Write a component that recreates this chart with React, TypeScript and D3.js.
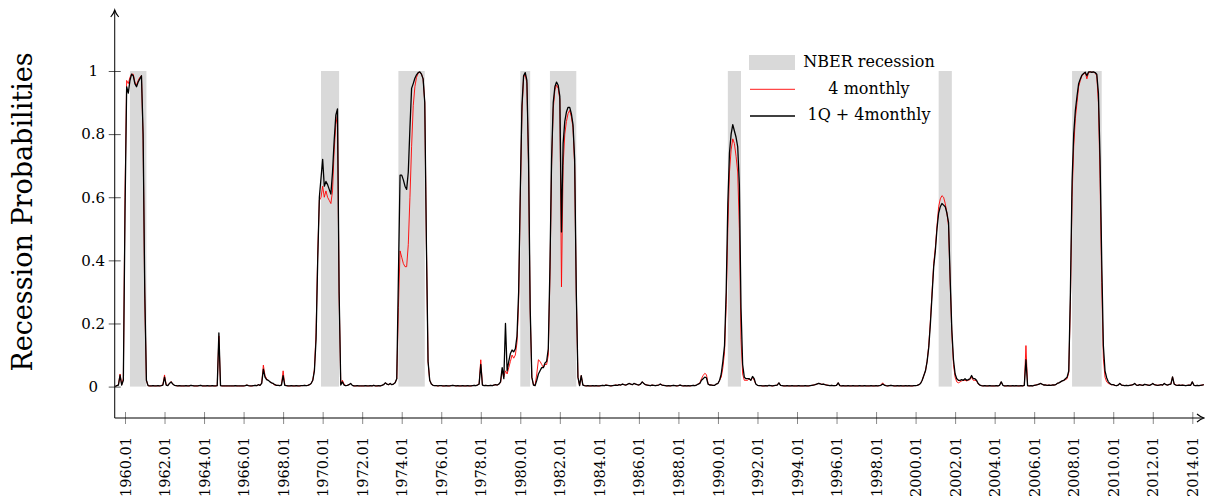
import React, { useEffect, useRef } from 'react';
import * as d3 from 'd3';

const W = 1205;
const H = 498;
const FONT = '"DejaVu Serif", serif';

// first observation: July 1959, one value per month
const firstMonth = 1959 + 6 / 12;

// 1Q + 4monthly (black)
const combined1950s = [0, 0.003, 0.005, 0.036, 0.005, 0.02];
const combined1960s = [
  [0.55, 0.95, 0.93, 0.97, 0.99, 0.985, 0.96, 0.95, 0.965, 0.975, 0.985, 0.8],
  [0.3, 0.02, 0.003, 0.002, 0.002, 0.003, 0.002, 0.002, 0.003, 0.002, 0.003, 0.005],
  [0.03, 0.005, 0.003, 0.01, 0.015, 0.008, 0.004, 0.003, 0.002, 0.003, 0.002, 0.002],
  [0.002, 0.003, 0.002, 0.002, 0.004, 0.003, 0.002, 0.002, 0.002, 0.003, 0.004, 0.002],
  [0.002, 0.002, 0.003, 0.002, 0.002, 0.003, 0.002, 0.002, 0.003, 0.17, 0.003, 0.002],
  [0.002, 0.002, 0.002, 0.002, 0.002, 0.002, 0.002, 0.003, 0.002, 0.002, 0.002, 0.002],
  [0.002, 0.003, 0.005, 0.003, 0.002, 0.002, 0.003, 0.004, 0.003, 0.006, 0.004, 0.01],
  [0.055, 0.03, 0.022, 0.02, 0.015, 0.012, 0.01, 0.006, 0.004, 0.004, 0.003, 0.005],
  [0.035, 0.004, 0.003, 0.002, 0.002, 0.003, 0.002, 0.002, 0.003, 0.002, 0.002, 0.003],
  [0.003, 0.004, 0.003, 0.004, 0.006, 0.01, 0.02, 0.05, 0.15, 0.4, 0.6, 0.66],
];
const combined1970s = [
  [0.72, 0.635, 0.65, 0.64, 0.625, 0.61, 0.68, 0.78, 0.86, 0.88, 0.3, 0.005],
  [0.015, 0.005, 0.003, 0.004, 0.006, 0.01, 0.004, 0.002, 0.002, 0.003, 0.002, 0.002],
  [0.002, 0.002, 0.003, 0.002, 0.002, 0.003, 0.002, 0.004, 0.002, 0.002, 0.003, 0.002],
  [0.004, 0.006, 0.012, 0.008, 0.006, 0.01, 0.006, 0.008, 0.012, 0.025, 0.35, 0.67],
  [0.67, 0.655, 0.635, 0.625, 0.68, 0.82, 0.945, 0.96, 0.977, 0.988, 0.995, 0.997],
  [0.99, 0.975, 0.9, 0.45, 0.08, 0.02, 0.008, 0.004, 0.003, 0.003, 0.002, 0.003],
  [0.003, 0.002, 0.002, 0.003, 0.002, 0.002, 0.003, 0.004, 0.003, 0.002, 0.003, 0.002],
  [0.002, 0.003, 0.002, 0.002, 0.003, 0.002, 0.002, 0.003, 0.004, 0.003, 0.005, 0.008],
  [0.07, 0.005, 0.003, 0.004, 0.003, 0.003, 0.004, 0.003, 0.005, 0.006, 0.005, 0.008],
  [0.015, 0.06, 0.025, 0.2, 0.05, 0.08, 0.105, 0.116, 0.11, 0.12, 0.16, 0.3],
];
const combined1980s = [
  [0.62, 0.89, 0.985, 0.995, 0.97, 0.72, 0.25, 0.03, 0.005, 0.003, 0.02, 0.04],
  [0.05, 0.06, 0.06, 0.075, 0.08, 0.12, 0.38, 0.72, 0.9, 0.95, 0.965, 0.955],
  [0.92, 0.49, 0.77, 0.84, 0.87, 0.885, 0.885, 0.865, 0.83, 0.72, 0.3, 0.03],
  [0.003, 0.035, 0.005, 0.003, 0.002, 0.003, 0.002, 0.002, 0.003, 0.002, 0.003, 0.002],
  [0.002, 0.003, 0.004, 0.003, 0.005, 0.004, 0.003, 0.002, 0.003, 0.004, 0.005, 0.004],
  [0.006, 0.005, 0.008, 0.006, 0.005, 0.007, 0.01, 0.008, 0.006, 0.01, 0.008, 0.006],
  [0.005, 0.008, 0.015, 0.01, 0.006, 0.005, 0.004, 0.003, 0.005, 0.004, 0.003, 0.004],
  [0.005, 0.008, 0.005, 0.004, 0.003, 0.002, 0.003, 0.002, 0.003, 0.004, 0.003, 0.002],
  [0.003, 0.005, 0.003, 0.002, 0.003, 0.002, 0.003, 0.002, 0.003, 0.004, 0.003, 0.005],
  [0.008, 0.01, 0.02, 0.025, 0.03, 0.028, 0.008, 0.005, 0.005, 0.004, 0.004, 0.008],
];
const combined1990s = [
  [0.01, 0.02, 0.04, 0.08, 0.13, 0.3, 0.58, 0.74, 0.8, 0.83, 0.81, 0.79],
  [0.76, 0.64, 0.25, 0.07, 0.03, 0.025, 0.025, 0.025, 0.02, 0.032, 0.025, 0.008],
  [0.004, 0.003, 0.003, 0.002, 0.002, 0.003, 0.002, 0.004, 0.003, 0.002, 0.003, 0.004],
  [0.005, 0.012, 0.004, 0.003, 0.002, 0.002, 0.003, 0.002, 0.002, 0.003, 0.002, 0.002],
  [0.002, 0.003, 0.002, 0.002, 0.002, 0.003, 0.002, 0.002, 0.003, 0.004, 0.005, 0.006],
  [0.008, 0.01, 0.009, 0.007, 0.008, 0.006, 0.005, 0.004, 0.003, 0.004, 0.003, 0.003],
  [0.004, 0.012, 0.003, 0.002, 0.003, 0.002, 0.002, 0.003, 0.002, 0.002, 0.003, 0.002],
  [0.002, 0.002, 0.003, 0.002, 0.002, 0.003, 0.002, 0.002, 0.002, 0.003, 0.002, 0.002],
  [0.003, 0.002, 0.003, 0.004, 0.008, 0.005, 0.003, 0.002, 0.003, 0.004, 0.003, 0.002],
  [0.002, 0.003, 0.002, 0.003, 0.002, 0.002, 0.003, 0.002, 0.003, 0.002, 0.002, 0.003],
];
const combined2000s = [
  [0.003, 0.004, 0.006, 0.01, 0.02, 0.035, 0.05, 0.08, 0.125, 0.2, 0.29, 0.38],
  [0.43, 0.5, 0.55, 0.57, 0.58, 0.575, 0.57, 0.55, 0.52, 0.34, 0.18, 0.085],
  [0.04, 0.025, 0.02, 0.02, 0.022, 0.02, 0.025, 0.02, 0.022, 0.025, 0.035, 0.025],
  [0.025, 0.02, 0.01, 0.005, 0.003, 0.002, 0.003, 0.002, 0.002, 0.003, 0.002, 0.002],
  [0.002, 0.003, 0.002, 0.004, 0.015, 0.004, 0.002, 0.002, 0.003, 0.002, 0.002, 0.003],
  [0.002, 0.003, 0.002, 0.002, 0.003, 0.002, 0.004, 0.085, 0.003, 0.002, 0.003, 0.002],
  [0.004, 0.005, 0.006, 0.008, 0.01, 0.007, 0.005, 0.005, 0.004, 0.005, 0.004, 0.005],
  [0.005, 0.006, 0.01, 0.012, 0.015, 0.018, 0.02, 0.025, 0.03, 0.05, 0.3, 0.65],
  [0.8, 0.875, 0.92, 0.96, 0.975, 0.987, 0.992, 0.996, 0.985, 0.997, 0.997, 0.996],
  [0.997, 0.995, 0.99, 0.93, 0.72, 0.4, 0.13, 0.05, 0.028, 0.015, 0.01, 0.006],
];
const combined2010s = [
  [0.006, 0.004, 0.003, 0.005, 0.01, 0.005, 0.004, 0.003, 0.004, 0.003, 0.004, 0.005],
  [0.006, 0.01, 0.005, 0.004, 0.006, 0.005, 0.004, 0.007, 0.006, 0.005, 0.004, 0.006],
  [0.01, 0.006, 0.005, 0.004, 0.005, 0.006, 0.005, 0.01, 0.006, 0.005, 0.007, 0.008],
  [0.031, 0.008, 0.005, 0.004, 0.005, 0.004, 0.005, 0.004, 0.003, 0.004, 0.005, 0.004],
  [0.015, 0.004, 0.003, 0.004, 0.003, 0.004, 0.005, 0.006],
];

// 4 monthly (red)
const monthly1950s = [0, 0.003, 0.006, 0.04, 0.006, 0.025];
const monthly1960s = [
  [0.6, 0.97, 0.96, 0.98, 0.99, 0.99, 0.965, 0.955, 0.97, 0.98, 0.985, 0.78],
  [0.28, 0.02, 0.003, 0.002, 0.002, 0.003, 0.002, 0.002, 0.003, 0.002, 0.003, 0.006],
  [0.037, 0.006, 0.003, 0.01, 0.016, 0.008, 0.004, 0.003, 0.002, 0.003, 0.002, 0.002],
  [0.002, 0.003, 0.002, 0.002, 0.004, 0.003, 0.002, 0.002, 0.002, 0.003, 0.004, 0.002],
  [0.002, 0.002, 0.003, 0.002, 0.002, 0.003, 0.002, 0.002, 0.003, 0.16, 0.003, 0.002],
  [0.002, 0.002, 0.002, 0.002, 0.002, 0.002, 0.002, 0.003, 0.002, 0.002, 0.002, 0.002],
  [0.002, 0.003, 0.005, 0.003, 0.002, 0.002, 0.003, 0.004, 0.003, 0.006, 0.004, 0.012],
  [0.068, 0.035, 0.025, 0.02, 0.015, 0.012, 0.008, 0.005, 0.004, 0.004, 0.003, 0.006],
  [0.05, 0.005, 0.003, 0.002, 0.002, 0.003, 0.002, 0.002, 0.003, 0.002, 0.002, 0.003],
  [0.003, 0.004, 0.003, 0.004, 0.006, 0.01, 0.02, 0.055, 0.17, 0.42, 0.59, 0.6],
];
const monthly1970s = [
  [0.635, 0.6, 0.62, 0.6, 0.59, 0.58, 0.62, 0.75, 0.83, 0.86, 0.29, 0.008],
  [0.02, 0.008, 0.003, 0.004, 0.006, 0.01, 0.004, 0.002, 0.002, 0.003, 0.002, 0.002],
  [0.002, 0.002, 0.003, 0.002, 0.002, 0.003, 0.002, 0.004, 0.002, 0.002, 0.003, 0.002],
  [0.004, 0.006, 0.012, 0.008, 0.006, 0.01, 0.006, 0.008, 0.012, 0.025, 0.25, 0.43],
  [0.41, 0.39, 0.38, 0.38, 0.45, 0.6, 0.76, 0.89, 0.95, 0.98, 0.993, 0.997],
  [0.99, 0.975, 0.9, 0.45, 0.08, 0.02, 0.008, 0.004, 0.003, 0.003, 0.002, 0.003],
  [0.003, 0.002, 0.002, 0.003, 0.002, 0.002, 0.003, 0.004, 0.003, 0.002, 0.003, 0.002],
  [0.002, 0.003, 0.002, 0.002, 0.003, 0.002, 0.002, 0.003, 0.004, 0.003, 0.005, 0.008],
  [0.085, 0.006, 0.003, 0.004, 0.003, 0.003, 0.004, 0.003, 0.005, 0.006, 0.005, 0.008],
  [0.012, 0.05, 0.03, 0.05, 0.04, 0.06, 0.08, 0.1, 0.09, 0.1, 0.14, 0.27],
];
const monthly1980s = [
  [0.6, 0.87, 0.98, 0.99, 0.96, 0.7, 0.24, 0.03, 0.006, 0.005, 0.04, 0.085],
  [0.08, 0.07, 0.06, 0.07, 0.07, 0.1, 0.35, 0.7, 0.88, 0.94, 0.955, 0.945],
  [0.91, 0.316, 0.7, 0.8, 0.84, 0.865, 0.875, 0.855, 0.82, 0.7, 0.29, 0.03],
  [0.003, 0.035, 0.005, 0.003, 0.002, 0.003, 0.002, 0.002, 0.003, 0.002, 0.003, 0.002],
  [0.002, 0.003, 0.004, 0.003, 0.005, 0.004, 0.003, 0.002, 0.003, 0.004, 0.005, 0.004],
  [0.006, 0.005, 0.008, 0.006, 0.005, 0.007, 0.01, 0.008, 0.006, 0.01, 0.008, 0.006],
  [0.005, 0.008, 0.015, 0.01, 0.006, 0.005, 0.004, 0.003, 0.005, 0.004, 0.003, 0.004],
  [0.005, 0.008, 0.005, 0.004, 0.003, 0.002, 0.003, 0.002, 0.003, 0.004, 0.003, 0.002],
  [0.003, 0.005, 0.003, 0.002, 0.003, 0.002, 0.003, 0.002, 0.003, 0.004, 0.003, 0.005],
  [0.008, 0.012, 0.025, 0.035, 0.042, 0.038, 0.01, 0.005, 0.005, 0.004, 0.004, 0.008],
];
const monthly1990s = [
  [0.01, 0.02, 0.03, 0.06, 0.11, 0.26, 0.5, 0.68, 0.75, 0.785, 0.77, 0.73],
  [0.68, 0.5, 0.15, 0.04, 0.02, 0.02, 0.02, 0.025, 0.02, 0.03, 0.02, 0.008],
  [0.004, 0.003, 0.003, 0.002, 0.002, 0.003, 0.002, 0.004, 0.003, 0.002, 0.003, 0.004],
  [0.005, 0.012, 0.004, 0.003, 0.002, 0.002, 0.003, 0.002, 0.002, 0.003, 0.002, 0.002],
  [0.002, 0.003, 0.002, 0.002, 0.002, 0.003, 0.002, 0.002, 0.003, 0.004, 0.005, 0.006],
  [0.008, 0.01, 0.009, 0.007, 0.008, 0.006, 0.005, 0.004, 0.003, 0.004, 0.003, 0.003],
  [0.004, 0.012, 0.003, 0.002, 0.003, 0.002, 0.002, 0.003, 0.002, 0.002, 0.003, 0.002],
  [0.002, 0.002, 0.003, 0.002, 0.002, 0.003, 0.002, 0.002, 0.002, 0.003, 0.002, 0.002],
  [0.003, 0.002, 0.003, 0.005, 0.012, 0.005, 0.003, 0.002, 0.003, 0.004, 0.003, 0.002],
  [0.002, 0.003, 0.002, 0.003, 0.002, 0.002, 0.003, 0.002, 0.003, 0.002, 0.002, 0.003],
];
const monthly2000s = [
  [0.003, 0.004, 0.006, 0.01, 0.02, 0.035, 0.05, 0.08, 0.13, 0.21, 0.3, 0.39],
  [0.44, 0.51, 0.57, 0.595, 0.605, 0.6, 0.58, 0.55, 0.51, 0.33, 0.17, 0.07],
  [0.03, 0.015, 0.012, 0.015, 0.018, 0.02, 0.02, 0.018, 0.02, 0.022, 0.03, 0.02],
  [0.02, 0.018, 0.008, 0.005, 0.003, 0.002, 0.003, 0.002, 0.002, 0.003, 0.002, 0.002],
  [0.002, 0.003, 0.002, 0.004, 0.015, 0.004, 0.002, 0.002, 0.003, 0.002, 0.002, 0.003],
  [0.002, 0.003, 0.002, 0.002, 0.003, 0.002, 0.004, 0.13, 0.003, 0.002, 0.003, 0.002],
  [0.004, 0.005, 0.006, 0.008, 0.01, 0.007, 0.005, 0.005, 0.004, 0.005, 0.004, 0.005],
  [0.005, 0.006, 0.01, 0.012, 0.015, 0.018, 0.02, 0.022, 0.025, 0.045, 0.27, 0.6],
  [0.76, 0.85, 0.9, 0.95, 0.97, 0.985, 0.99, 0.995, 0.975, 0.995, 0.997, 0.996],
  [0.996, 0.994, 0.985, 0.9, 0.66, 0.33, 0.09, 0.03, 0.015, 0.01, 0.008, 0.006],
];
const monthly2010s = [
  [0.006, 0.004, 0.003, 0.005, 0.01, 0.005, 0.004, 0.003, 0.004, 0.003, 0.004, 0.005],
  [0.006, 0.01, 0.005, 0.004, 0.006, 0.005, 0.004, 0.007, 0.006, 0.005, 0.004, 0.006],
  [0.01, 0.006, 0.005, 0.004, 0.005, 0.006, 0.005, 0.01, 0.006, 0.005, 0.007, 0.008],
  [0.031, 0.008, 0.005, 0.004, 0.005, 0.004, 0.005, 0.004, 0.003, 0.004, 0.005, 0.004],
  [0.015, 0.004, 0.003, 0.004, 0.003, 0.004, 0.005, 0.006],
];

// NBER recessions, start and end month
const recessions = [
  ['1960.04', '1961.02'],
  ['1969.12', '1970.11'],
  ['1973.11', '1975.03'],
  ['1980.01', '1980.07'],
  ['1981.07', '1982.11'],
  ['1990.07', '1991.03'],
  ['2001.03', '2001.11'],
  ['2007.12', '2009.06'],
];

const yearTicks = d3.range(1960, 2015, 2);
const probTicks = [0, 0.2, 0.4, 0.6, 0.8, 1];
const legendLabels = ['NBER recession', '4 monthly', '1Q + 4monthly'];

const combined = [combined1950s, combined1960s, combined1970s, combined1980s, combined1990s, combined2000s, combined2010s].flat(2);
const monthly = [monthly1950s, monthly1960s, monthly1970s, monthly1980s, monthly1990s, monthly2000s, monthly2010s].flat(2);

const toYear = (s: string) => {
  const [yy, mm] = s.split('.').map(Number);
  return yy + (mm - 1) / 12;
};

const App = () => {
  const ref = useRef<SVGSVGElement>(null);

  useEffect(() => {
    const svg = d3.select(ref.current);
    svg.selectAll('*').remove();

    const x = d3.scaleLinear().domain([1960, 2014]).range([125, 1192.3]);
    const y = d3.scaleLinear().domain([0, 1]).range([386.6, 71]);
    const axisY = 418;
    const axisX = x(1959.48);

    // recession bands
    svg.append('g')
      .selectAll('rect')
      .data(recessions)
      .enter()
      .append('rect')
      .attr('x', d => x(toYear(d[0])))
      .attr('width', d => x(toYear(d[1])) - x(toYear(d[0])))
      .attr('y', y(1))
      .attr('height', y(0) - y(1))
      .attr('fill', '#d9d9d9');

    const line = d3.line<number>()
      .x((d, i) => x(firstMonth + i / 12))
      .y(d => y(d));

    svg.append('path')
      .datum(monthly)
      .attr('d', line)
      .attr('fill', 'none')
      .attr('stroke', '#ff0000')
      .attr('stroke-width', 0.9)
      .attr('stroke-linejoin', 'round');

    svg.append('path')
      .datum(combined)
      .attr('d', line)
      .attr('fill', 'none')
      .attr('stroke', '#000')
      .attr('stroke-width', 1.3)
      .attr('stroke-linejoin', 'round');

    // x axis
    const gx = svg.append('g')
      .attr('transform', `translate(0,${axisY})`)
      .call(d3.axisBottom(x).tickValues(yearTicks).tickFormat(d => `${d}.01`).tickSizeOuter(0));
    gx.select('.domain').remove();
    gx.selectAll('.tick line').attr('y1', -6).attr('y2', 6).attr('stroke', '#8a8a8a');
    gx.selectAll('.tick text')
      .attr('transform', 'rotate(-90)')
      .attr('text-anchor', 'end')
      .attr('x', -19)
      .attr('y', 0)
      .attr('dy', '0.35em')
      .attr('fill', '#000')
      .style('font-family', FONT)
      .style('font-size', '14.5px');

    // y axis
    const gy = svg.append('g')
      .attr('transform', `translate(${axisX},0)`)
      .call(d3.axisLeft(y).tickValues(probTicks).tickFormat(d => (d === 0 || d === 1 ? `${d}` : d3.format('.1f')(d as number))).tickSizeOuter(0));
    gy.select('.domain').remove();
    gy.selectAll('.tick line').attr('x1', -6).attr('x2', 6).attr('stroke', '#555');
    gy.selectAll('.tick text')
      .attr('text-anchor', 'middle')
      .attr('x', -21.5)
      .attr('fill', '#000')
      .style('font-family', FONT)
      .style('font-size', '15px');

    // axis lines with arrows
    svg.append('line')
      .attr('x1', axisX).attr('x2', 1203.5)
      .attr('y1', axisY).attr('y2', axisY)
      .attr('stroke', '#000').attr('stroke-width', 1);
    svg.append('path')
      .attr('d', `M${1197},${axisY - 4} Q${1200.5},${axisY - 1} ${1204},${axisY} Q${1200.5},${axisY + 1} ${1197},${axisY + 4}`)
      .attr('fill', 'none').attr('stroke', '#000').attr('stroke-width', 1.1);
    svg.append('line')
      .attr('x1', axisX).attr('x2', axisX)
      .attr('y1', axisY).attr('y2', 10.5)
      .attr('stroke', '#000').attr('stroke-width', 1);
    svg.append('path')
      .attr('d', `M${axisX - 4},17 Q${axisX - 1},13.5 ${axisX},10 Q${axisX + 1},13.5 ${axisX + 4},17`)
      .attr('fill', 'none').attr('stroke', '#000').attr('stroke-width', 1.1);

    // y label
    svg.append('text')
      .attr('transform', 'translate(32,212) rotate(-90)')
      .attr('text-anchor', 'middle')
      .style('font-family', FONT)
      .style('font-size', '27px')
      .text('Recession Probabilities');

    // legend
    const lg = svg.append('g');
    lg.append('rect').attr('x', 749).attr('y', 55).attr('width', 46).attr('height', 15).attr('fill', '#d9d9d9');
    lg.append('line').attr('x1', 750).attr('x2', 795).attr('y1', 89.3).attr('y2', 89.3)
      .attr('stroke', '#ff0000').attr('stroke-width', 0.9);
    lg.append('line').attr('x1', 750).attr('x2', 795).attr('y1', 116).attr('y2', 116)
      .attr('stroke', '#000').attr('stroke-width', 1.3);
    lg.selectAll('text')
      .data(legendLabels)
      .enter()
      .append('text')
      .attr('x', 869)
      .attr('y', (d, i) => 67 + i * 26.5)
      .attr('text-anchor', 'middle')
      .style('font-family', FONT)
      .style('font-size', '16px')
      .text(d => d);
  }, []);

  return (
    <svg
      ref={ref}
      width={W}
      height={H}
      style={{ position: 'absolute', left: 0, top: 0, background: '#fff' }}
    />
  );
};

export default App;
